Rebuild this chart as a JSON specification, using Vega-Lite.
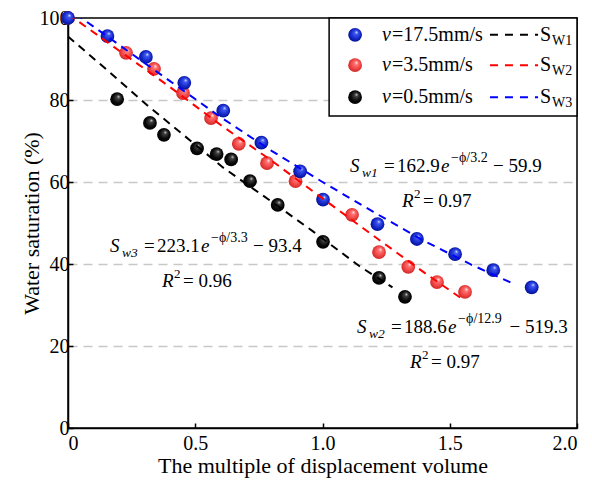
{
  "$schema": "https://vega.github.io/schema/vega-lite/v6.json",
  "width": 509,
  "height": 410,
  "autosize": {"type": "none"},
  "padding": {"left": 68, "top": 18, "right": 15, "bottom": 56},
  "background": "white",
  "config": {
    "font": "Liberation Serif",
    "view": {"stroke": "black", "strokeWidth": 1.5},
    "text": {"font": "Liberation Serif", "color": "black"},
    "axisX": {"tickSize": -5, "tickWidth": 1.5, "tickColor": "black", "domainColor": "black", "domainWidth": 1.5,
      "labelFontSize": 20, "labelColor": "black", "labelPadding": 10, "labelFont": "Liberation Serif",
      "titleFontSize": 22, "titleFontWeight": "normal", "titleColor": "black", "titleFont": "Liberation Serif",
      "titlePadding": 2, "grid": false},
    "axisY": {"tickSize": -5, "tickWidth": 1.5, "tickColor": "black", "domainColor": "black", "domainWidth": 1.5,
      "labelFontSize": 20, "labelColor": "black", "labelPadding": 4, "labelFont": "Liberation Serif",
      "titleFontSize": 22, "titleFontWeight": "normal", "titleColor": "black", "titleFont": "Liberation Serif",
      "titlePadding": -4, "grid": true, "gridDash": [9, 6], "gridColor": "#c8c8c8", "gridWidth": 1.5}
  },
  "datasets": {
    "pts": [
      {"s": "k", "x": 0.193, "y": 80.2}, {"s": "k", "x": 0.322, "y": 74.4}, {"s": "k", "x": 0.377, "y": 71.5},
      {"s": "k", "x": 0.507, "y": 68.2}, {"s": "k", "x": 0.584, "y": 66.8}, {"s": "k", "x": 0.641, "y": 65.5},
      {"s": "k", "x": 0.715, "y": 60.2}, {"s": "k", "x": 0.824, "y": 54.4}, {"s": "k", "x": 1.002, "y": 45.4},
      {"s": "k", "x": 1.222, "y": 36.6}, {"s": "k", "x": 1.324, "y": 32.0},
      {"s": "r", "x": 0, "y": 100}, {"s": "r", "x": 0.228, "y": 91.5}, {"s": "r", "x": 0.338, "y": 87.6},
      {"s": "r", "x": 0.452, "y": 81.7}, {"s": "r", "x": 0.562, "y": 75.6}, {"s": "r", "x": 0.671, "y": 69.3},
      {"s": "r", "x": 0.782, "y": 64.6}, {"s": "r", "x": 0.894, "y": 60.2}, {"s": "r", "x": 1.116, "y": 52.0},
      {"s": "r", "x": 1.222, "y": 42.9}, {"s": "r", "x": 1.337, "y": 39.3}, {"s": "r", "x": 1.450, "y": 35.6},
      {"s": "r", "x": 1.560, "y": 33.2},
      {"s": "b", "x": 0, "y": 100}, {"s": "b", "x": 0.155, "y": 95.6}, {"s": "b", "x": 0.306, "y": 90.5},
      {"s": "b", "x": 0.457, "y": 84.2}, {"s": "b", "x": 0.610, "y": 77.4}, {"s": "b", "x": 0.760, "y": 69.6},
      {"s": "b", "x": 0.912, "y": 62.6}, {"s": "b", "x": 1.002, "y": 55.7}, {"s": "b", "x": 1.216, "y": 49.7},
      {"s": "b", "x": 1.371, "y": 46.1}, {"s": "b", "x": 1.521, "y": 42.4}, {"s": "b", "x": 1.671, "y": 38.5},
      {"s": "b", "x": 1.822, "y": 34.3}
    ],
    "fits": [
      {"fit": "SW1", "x": 0, "y": 95.5}, {"fit": "SW1", "x": 0.15, "y": 87.5}, {"fit": "SW1", "x": 0.31, "y": 78.8},
      {"fit": "SW1", "x": 0.61, "y": 63.5}, {"fit": "SW1", "x": 0.8, "y": 55.2}, {"fit": "SW1", "x": 0.964, "y": 47.9},
      {"fit": "SW1", "x": 1.147, "y": 39.4}, {"fit": "SW1", "x": 1.275, "y": 34.3},
      {"fit": "SW2", "x": 0, "y": 101}, {"fit": "SW2", "x": 0.204, "y": 91.9}, {"fit": "SW2", "x": 0.4, "y": 83.2},
      {"fit": "SW2", "x": 0.6, "y": 73.9}, {"fit": "SW2", "x": 0.8, "y": 65.2}, {"fit": "SW2", "x": 1.0, "y": 56.0},
      {"fit": "SW2", "x": 1.2, "y": 46.9}, {"fit": "SW2", "x": 1.4, "y": 37.9}, {"fit": "SW2", "x": 1.56, "y": 31.0},
      {"fit": "SW3", "x": 0.03, "y": 101}, {"fit": "SW3", "x": 0.204, "y": 93.3}, {"fit": "SW3", "x": 0.401, "y": 84.6},
      {"fit": "SW3", "x": 0.6, "y": 75.8}, {"fit": "SW3", "x": 0.8, "y": 67.6}, {"fit": "SW3", "x": 1.0, "y": 60.0},
      {"fit": "SW3", "x": 1.2, "y": 52.7}, {"fit": "SW3", "x": 1.4, "y": 45.6}, {"fit": "SW3", "x": 1.586, "y": 39.8},
      {"fit": "SW3", "x": 1.75, "y": 35.2}
    ],
    "leg": [
      {"s": "b", "ly": 95.9, "lab": "=17.5mm/s", "fit": "SW1", "sub": "W1"},
      {"s": "r", "ly": 88.5, "lab": "=3.5mm/s", "fit": "SW2", "sub": "W2"},
      {"s": "k", "ly": 80.7, "lab": "=0.5mm/s", "fit": "SW3", "sub": "W3"}
    ],
    "eqs": [
      {"ex": 1.108, "ey": 62.4, "sub": "w1", "num": "162.9", "sup": "−ϕ/3.2", "tail": "− 59.9", "rx": 1.312, "ry": 53.9, "r2": "= 0.97"},
      {"ex": 0.165, "ey": 42.9, "sub": "w3", "num": "223.1", "sup": "−ϕ/3.3", "tail": "− 93.4", "rx": 0.369, "ry": 34.4, "r2": "= 0.96"},
      {"ex": 1.136, "ey": 23.2, "sub": "w2", "num": "188.6", "sup": "−ϕ/12.9", "tail": "\u200b\u00a0\u00a0− 519.3", "rx": 1.344, "ry": 14.6, "r2": "= 0.97"}
    ]
  },
  "layer": [
    {
      "data": {"values": [{}]},
      "mark": {"type": "rect", "fill": "white", "stroke": "black", "strokeWidth": 1.5},
      "encoding": {
        "x": {"datum": 1.026, "type": "quantitative",
          "scale": {"domain": [0, 2], "nice": false, "zero": false},
          "axis": {"values": [0, 0.5, 1, 1.5, 2], "labelExpr": "datum.value == 0 ? '0' : format(datum.value, '.1f')",
            "title": "The multiple of displacement volume"}},
        "x2": {"datum": 2.0},
        "y": {"datum": 100, "type": "quantitative",
          "scale": {"domain": [0, 100], "nice": false},
          "axis": {"values": [0, 20, 40, 60, 80, 100], "title": "Water saturation (%)",
            "gridOpacity": {"condition": {"test": "datum.value == 0 || datum.value == 100", "value": 0}, "value": 1}}},
        "y2": {"datum": 76.1}
      }
    },
    {
      "data": {"name": "pts"},
      "transform": [{"filter": "datum.s == 'k'"}],
      "mark": {"type": "circle", "size": 190, "opacity": 1, "strokeWidth": 0,
        "fill": {"gradient": "radial", "x1": 0.62, "y1": 0.3, "r1": 0, "x2": 0.5, "y2": 0.5, "r2": 0.55,
          "stops": [{"offset": 0, "color": "#d8d8d8"}, {"offset": 0.22, "color": "#404040"}, {"offset": 0.65, "color": "#080808"}, {"offset": 1, "color": "#000000"}]}},
      "encoding": {"x": {"field": "x", "type": "quantitative"}, "y": {"field": "y", "type": "quantitative"}}
    },
    {
      "data": {"name": "pts"},
      "transform": [{"filter": "datum.s == 'r'"}],
      "mark": {"type": "circle", "size": 190, "opacity": 1, "strokeWidth": 0,
        "fill": {"gradient": "radial", "x1": 0.62, "y1": 0.3, "r1": 0, "x2": 0.5, "y2": 0.5, "r2": 0.55,
          "stops": [{"offset": 0, "color": "#fff0f0"}, {"offset": 0.25, "color": "#ff7070"}, {"offset": 0.65, "color": "#ee4444"}, {"offset": 1, "color": "#c82020"}]}},
      "encoding": {"x": {"field": "x", "type": "quantitative"}, "y": {"field": "y", "type": "quantitative"}}
    },
    {
      "data": {"name": "pts"},
      "transform": [{"filter": "datum.s == 'b'"}],
      "mark": {"type": "circle", "size": 190, "opacity": 1, "strokeWidth": 0,
        "fill": {"gradient": "radial", "x1": 0.62, "y1": 0.3, "r1": 0, "x2": 0.5, "y2": 0.5, "r2": 0.55,
          "stops": [{"offset": 0, "color": "#f0f2ff"}, {"offset": 0.22, "color": "#4058f0"}, {"offset": 0.65, "color": "#1428c8"}, {"offset": 1, "color": "#000c88"}]}},
      "encoding": {"x": {"field": "x", "type": "quantitative"}, "y": {"field": "y", "type": "quantitative"}}
    },
    {
      "data": {"name": "fits"},
      "mark": {"type": "line", "strokeDash": [8, 6], "strokeWidth": 2, "clip": true},
      "encoding": {
        "x": {"field": "x", "type": "quantitative"},
        "y": {"field": "y", "type": "quantitative"},
        "stroke": {"field": "fit", "type": "nominal", "scale": {"domain": ["SW1", "SW2", "SW3"], "range": ["#000000", "#ff0000", "#0000ff"]}, "legend": null}
      }
    },
    {
      "data": {"name": "leg"},
      "transform": [{"filter": "datum.s == 'b'"}],
      "mark": {"type": "circle", "size": 190, "opacity": 1, "strokeWidth": 0,
        "fill": {"gradient": "radial", "x1": 0.62, "y1": 0.3, "r1": 0, "x2": 0.5, "y2": 0.5, "r2": 0.55,
          "stops": [{"offset": 0, "color": "#f0f2ff"}, {"offset": 0.22, "color": "#4058f0"}, {"offset": 0.65, "color": "#1428c8"}, {"offset": 1, "color": "#000c88"}]}},
      "encoding": {"x": {"datum": 1.128, "type": "quantitative"}, "y": {"field": "ly", "type": "quantitative"}}
    },
    {
      "data": {"name": "leg"},
      "transform": [{"filter": "datum.s == 'r'"}],
      "mark": {"type": "circle", "size": 190, "opacity": 1, "strokeWidth": 0,
        "fill": {"gradient": "radial", "x1": 0.62, "y1": 0.3, "r1": 0, "x2": 0.5, "y2": 0.5, "r2": 0.55,
          "stops": [{"offset": 0, "color": "#fff0f0"}, {"offset": 0.25, "color": "#ff7070"}, {"offset": 0.65, "color": "#ee4444"}, {"offset": 1, "color": "#c82020"}]}},
      "encoding": {"x": {"datum": 1.128, "type": "quantitative"}, "y": {"field": "ly", "type": "quantitative"}}
    },
    {
      "data": {"name": "leg"},
      "transform": [{"filter": "datum.s == 'k'"}],
      "mark": {"type": "circle", "size": 190, "opacity": 1, "strokeWidth": 0,
        "fill": {"gradient": "radial", "x1": 0.62, "y1": 0.3, "r1": 0, "x2": 0.5, "y2": 0.5, "r2": 0.55,
          "stops": [{"offset": 0, "color": "#d8d8d8"}, {"offset": 0.22, "color": "#404040"}, {"offset": 0.65, "color": "#080808"}, {"offset": 1, "color": "#000000"}]}},
      "encoding": {"x": {"datum": 1.128, "type": "quantitative"}, "y": {"field": "ly", "type": "quantitative"}}
    },
    {
      "data": {"name": "leg"},
      "mark": {"type": "rule", "strokeDash": [8, 7], "strokeWidth": 2},
      "encoding": {
        "x": {"datum": 1.658, "type": "quantitative"},
        "x2": {"datum": 1.847},
        "y": {"field": "ly", "type": "quantitative"},
        "stroke": {"field": "fit", "type": "nominal", "legend": null}
      }
    },
    {
      "data": {"name": "leg"},
      "mark": {"type": "text", "text": "v", "fontStyle": "italic", "fontSize": 20, "align": "left", "baseline": "middle"},
      "encoding": {"x": {"datum": 1.234, "type": "quantitative"}, "y": {"field": "ly", "type": "quantitative"}}
    },
    {
      "data": {"name": "leg"},
      "mark": {"type": "text", "fontSize": 20, "align": "left", "baseline": "middle", "dx": 10},
      "encoding": {"x": {"datum": 1.234, "type": "quantitative"}, "y": {"field": "ly", "type": "quantitative"}, "text": {"field": "lab"}}
    },
    {
      "data": {"name": "leg"},
      "mark": {"type": "text", "text": "S", "fontSize": 20, "align": "left", "baseline": "middle"},
      "encoding": {"x": {"datum": 1.855, "type": "quantitative"}, "y": {"field": "ly", "type": "quantitative"}}
    },
    {
      "data": {"name": "leg"},
      "mark": {"type": "text", "fontSize": 14, "align": "left", "baseline": "middle", "dx": 12, "dy": 6},
      "encoding": {"x": {"datum": 1.855, "type": "quantitative"}, "y": {"field": "ly", "type": "quantitative"}, "text": {"field": "sub"}}
    },
    {
      "data": {"name": "eqs"},
      "mark": {"type": "text", "text": "S", "fontStyle": "italic", "fontSize": 19, "align": "left", "baseline": "alphabetic"},
      "encoding": {"x": {"field": "ex", "type": "quantitative"}, "y": {"field": "ey", "type": "quantitative"}}
    },
    {
      "data": {"name": "eqs"},
      "mark": {"type": "text", "fontStyle": "italic", "fontSize": 13.5, "align": "left", "baseline": "alphabetic", "dx": 12, "dy": 5},
      "encoding": {"x": {"field": "ex", "type": "quantitative"}, "y": {"field": "ey", "type": "quantitative"}, "text": {"field": "sub"}}
    },
    {
      "data": {"name": "eqs"},
      "mark": {"type": "text", "text": "=", "fontSize": 19, "align": "left", "baseline": "alphabetic", "dx": 34},
      "encoding": {"x": {"field": "ex", "type": "quantitative"}, "y": {"field": "ey", "type": "quantitative"}}
    },
    {
      "data": {"name": "eqs"},
      "mark": {"type": "text", "fontSize": 19, "align": "left", "baseline": "alphabetic", "dx": 47},
      "encoding": {"x": {"field": "ex", "type": "quantitative"}, "y": {"field": "ey", "type": "quantitative"}, "text": {"field": "num"}}
    },
    {
      "data": {"name": "eqs"},
      "mark": {"type": "text", "text": "e", "fontStyle": "italic", "fontSize": 19, "align": "left", "baseline": "alphabetic", "dx": 91},
      "encoding": {"x": {"field": "ex", "type": "quantitative"}, "y": {"field": "ey", "type": "quantitative"}}
    },
    {
      "data": {"name": "eqs"},
      "mark": {"type": "text", "fontSize": 14, "align": "left", "baseline": "alphabetic", "dx": 101, "dy": -10},
      "encoding": {"x": {"field": "ex", "type": "quantitative"}, "y": {"field": "ey", "type": "quantitative"}, "text": {"field": "sup"}}
    },
    {
      "data": {"name": "eqs"},
      "mark": {"type": "text", "fontSize": 19, "align": "left", "baseline": "alphabetic", "dx": 143},
      "encoding": {"x": {"field": "ex", "type": "quantitative"}, "y": {"field": "ey", "type": "quantitative"}, "text": {"field": "tail"}}
    },
    {
      "data": {"name": "eqs"},
      "mark": {"type": "text", "text": "R", "fontStyle": "italic", "fontSize": 19, "align": "left", "baseline": "alphabetic"},
      "encoding": {"x": {"field": "rx", "type": "quantitative"}, "y": {"field": "ry", "type": "quantitative"}}
    },
    {
      "data": {"name": "eqs"},
      "mark": {"type": "text", "text": "2", "fontSize": 13, "align": "left", "baseline": "alphabetic", "dx": 12, "dy": -9},
      "encoding": {"x": {"field": "rx", "type": "quantitative"}, "y": {"field": "ry", "type": "quantitative"}}
    },
    {
      "data": {"name": "eqs"},
      "mark": {"type": "text", "fontSize": 19, "align": "left", "baseline": "alphabetic", "dx": 21},
      "encoding": {"x": {"field": "rx", "type": "quantitative"}, "y": {"field": "ry", "type": "quantitative"}, "text": {"field": "r2"}}
    }
  ]
}
